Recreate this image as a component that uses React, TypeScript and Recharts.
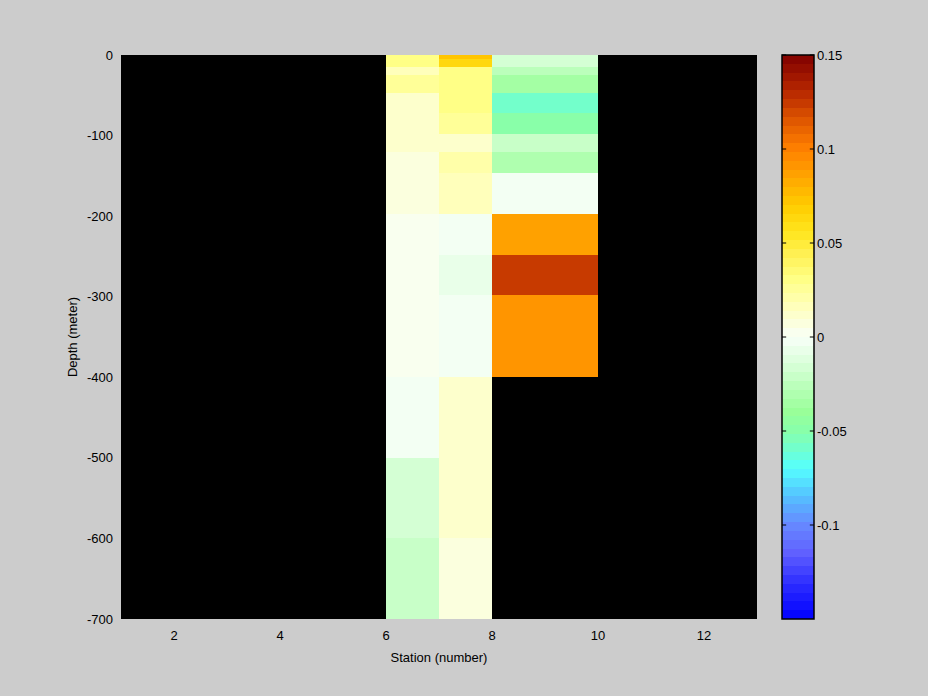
import React from "react";
import { ComposedChart, XAxis, YAxis, ReferenceArea, ReferenceLine } from "recharts";

// station ticks and depth ticks
const stationTicks = [2, 4, 6, 8, 10, 12];
const depthTicks = [-700, -600, -500, -400, -300, -200, -100, 0];
const colorTicks = [-0.1, -0.05, 0, 0.05, 0.1, 0.15];

// station 6-7
const edges6 = [0, 15, 25, 47.5, 121, 197, 400, 500, 600, 700];
const values6 = [0.032, 0.018, 0.025, 0.01, 0.005, 0.002, -0.002, -0.018, -0.023];

// station 7-8
const edges7 = [0, 5, 15, 72, 97.5, 121, 147, 197, 248, 298, 400, 600, 700];
const values7 = [0.071, 0.062, 0.032, 0.025, 0.014, 0.02, 0.016, -0.001, -0.006, -0.002, 0.012, 0.007];

// station 8-10
const edges8 = [0, 15, 25, 47.5, 72, 97.5, 121, 147, 197, 248, 298, 400];
const values8 = [-0.018, -0.028, -0.036, -0.058, -0.05, -0.023, -0.032, -0.001, 0.085, 0.125, 0.09];

// colormap stops
const cmapStops = [-0.15, -0.13, -0.115, -0.1, -0.085, -0.07, -0.06, -0.05, -0.04, -0.03, -0.015, 0, 0.015, 0.03, 0.045, 0.055, 0.07, 0.085, 0.1, 0.115, 0.13, 0.15];
const cmapColors = ["#0000ff", "#3030ff", "#6060ff", "#6688ff", "#55c0ff", "#55ffff", "#70ffd0", "#88ffaa", "#99ff99", "#b0ffb0", "#d8ffd8", "#f8fff8", "#ffffc0", "#ffff88", "#fff050", "#ffe620", "#ffcc00", "#ffa500", "#ff8000", "#e05800", "#b82800", "#800000"];

const CMIN = -0.15;
const CMAX = 0.15;
const LEVELS = 64;

function hex(c: string) {
  return [1, 3, 5].map((i) => parseInt(c.slice(i, i + 2), 16));
}

function interp(v: number) {
  if (v <= cmapStops[0]) return cmapColors[0];
  for (let i = 1; i < cmapStops.length; i++) {
    if (v <= cmapStops[i]) {
      const t = (v - cmapStops[i - 1]) / (cmapStops[i] - cmapStops[i - 1]);
      const a = hex(cmapColors[i - 1]);
      const b = hex(cmapColors[i]);
      const rgb = a.map((x, k) => Math.round(x + (b[k] - x) * t));
      return `rgb(${rgb.join(",")})`;
    }
  }
  return cmapColors[cmapColors.length - 1];
}

const step = (CMAX - CMIN) / LEVELS;

function levelColor(v: number) {
  let idx = Math.floor((v - CMIN) / step);
  idx = Math.max(0, Math.min(LEVELS - 1, idx));
  return interp(CMIN + (idx + 0.5) * step);
}

const levels = Array.from({ length: LEVELS }, (_, i) => ({
  lo: CMIN + i * step,
  hi: CMIN + (i + 1) * step,
  color: interp(CMIN + (i + 0.5) * step),
}));

function buildCells(x1: number, x2: number, edges: number[], values: number[]) {
  return values.map((v, i) => ({ x1, x2, top: edges[i], bottom: edges[i + 1], value: v }));
}

const cells = [
  ...buildCells(6, 7, edges6, values6),
  ...buildCells(7, 8, edges7, values7),
  ...buildCells(8, 10, edges8, values8),
];

// corner points so the chart has data for its axes
const mainPoints = cells.flatMap((c) => [
  { x: c.x1, y: -c.top },
  { x: c.x2, y: -c.bottom },
]);
const barPoints = levels.map((l) => ({ x: 0.5, y: l.lo }));

const font = { fontFamily: "Liberation Sans, Arial, sans-serif", fontSize: 13, fill: "#000" };

export default function App() {
  return (
    <div style={{ position: "absolute", left: 0, top: 0, width: 928, height: 696, background: "#cccccc" }}>
      <div style={{ position: "absolute", left: 0, top: 0 }}>
        <ComposedChart width={928} height={696} data={mainPoints} margin={{ top: 55, right: 171, bottom: 47, left: 0 }}>
          <XAxis
            type="number"
            dataKey="x"
            domain={[1, 13]}
            allowDataOverflow
            ticks={stationTicks}
            axisLine={false}
            tickLine={false}
            tickMargin={6}
            height={30}
            tick={font}
            label={{
              content: (props: any) => {
                const vb = props.viewBox || {};
                return (
                  <text x={vb.x + vb.width / 2} y={662} textAnchor="middle" style={font as any}>
                    Station (number)
                  </text>
                );
              },
            }}
          />
          <YAxis
            type="number"
            dataKey="y"
            domain={[-700, 0]}
            allowDataOverflow
            ticks={depthTicks}
            axisLine={false}
            tickLine={false}
            width={121}
            tick={font}
            label={{
              content: (props: any) => {
                const vb = props.viewBox || {};
                const cy = vb.y + vb.height / 2;
                return (
                  <text x={77} y={cy} textAnchor="middle" transform={`rotate(-90 77 ${cy})`} style={font as any}>
                    Depth (meter)
                  </text>
                );
              },
            }}
          />
          <ReferenceArea x1={1} x2={13} y1={-700} y2={0} fill="#000" fillOpacity={1} stroke="none" />
          {cells.map((c, i) => (
            <ReferenceArea
              key={i}
              x1={c.x1}
              x2={c.x2}
              y1={-c.bottom}
              y2={-c.top}
              fill={levelColor(c.value)}
              fillOpacity={1}
              stroke="none"
              shapeRendering="crispEdges"
            />
          ))}
        </ComposedChart>
      </div>
      <div style={{ position: "absolute", left: 0, top: 0 }}>
        <ComposedChart width={928} height={696} data={barPoints} margin={{ top: 55, right: 0, bottom: 77, left: 782 }}>
          <XAxis type="number" dataKey="x" domain={[0, 1]} allowDataOverflow hide height={0} />
          <YAxis
            type="number"
            dataKey="y"
            orientation="right"
            domain={[CMIN, CMAX]}
            allowDataOverflow
            ticks={colorTicks}
            axisLine={false}
            tickLine={false}
            tickSize={0}
            tickMargin={3}
            width={114}
            tick={font}
            tickFormatter={(v: number) => String(v)}
          />
          {levels.map((l, i) => (
            <ReferenceArea
              key={i}
              x1={0}
              x2={1}
              y1={l.lo}
              y2={l.hi}
              fill={l.color}
              fillOpacity={1}
              stroke="none"
              shapeRendering="crispEdges"
            />
          ))}
          <ReferenceArea x1={0} x2={1} y1={CMIN} y2={CMAX} fill="none" stroke="#000" strokeWidth={1.5} />
          {colorTicks.map((t) => (
            <ReferenceLine key={`l${t}`} segment={[{ x: 0, y: t }, { x: 0.13, y: t }]} stroke="#000" />
          ))}
          {colorTicks.map((t) => (
            <ReferenceLine key={`r${t}`} segment={[{ x: 0.87, y: t }, { x: 1, y: t }]} stroke="#000" />
          ))}
        </ComposedChart>
      </div>
    </div>
  );
}
